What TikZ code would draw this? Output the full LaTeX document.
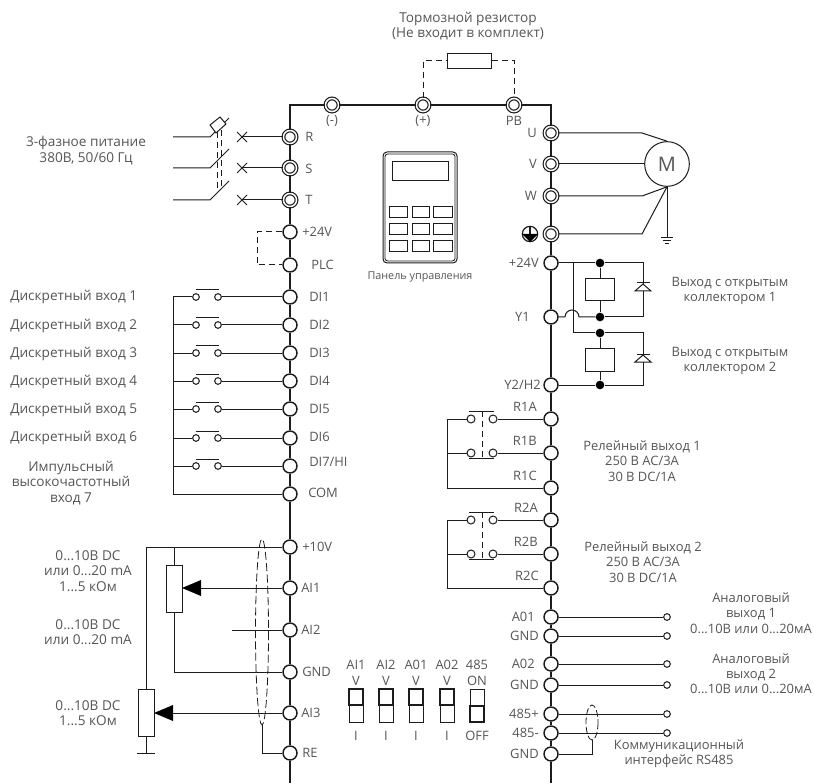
\documentclass[tikz,border=0pt]{standalone}
\usepackage{fontspec}
\setmainfont{Open Sans}
\usepackage{tikz}
\definecolor{txtgray}{HTML}{555555}
\definecolor{wiregray}{HTML}{1c1c1c}
\tikzset{
  wire/.style={draw=wiregray,line width=0.75pt},
  rail/.style={draw=wiregray,line width=1.15pt},
  jumper/.style={draw=wiregray,line width=0.75pt,dashed,dash pattern=on 4.5pt off 3pt},
  term/.style={circle,draw=wiregray,line width=1.1pt,fill=white,inner sep=0pt,minimum size=10.5pt},
  ringterm/.style={circle,draw=wiregray,line width=0.9pt,double=white,double distance=1.1pt,fill=white,inner sep=0pt,minimum size=9.8pt},
  contact/.style={circle,draw=wiregray,line width=0.75pt,fill=white,inner sep=0pt,minimum size=5pt},
  endpin/.style={circle,draw=wiregray,line width=0.75pt,fill=white,inner sep=0pt,minimum size=5pt},
  junction/.style={circle,fill=black,inner sep=0pt,minimum size=6.5pt},
  boxpart/.style={draw=wiregray,line width=0.75pt,fill=white},
  txt/.style={text=txtgray,font=\fontsize{9.7}{11.4}\selectfont,inner sep=0pt,align=center},
  txtb/.style={txt,font=\fontsize{10.2}{11.6}\selectfont},
  small/.style={text=txtgray,font=\fontsize{8.1}{9}\selectfont,inner sep=0pt,align=center},
}
\begin{document}
\begin{tikzpicture}[x=0.75pt,y=-0.75pt]
\useasboundingbox (0,0) rectangle (814,784);
% terminals, left rail
\foreach \nm/\yy in {R/137,S/168,T/200}
  \node[ringterm] (t\nm) at (290,\yy) {};
\foreach \nm/\yy in {PV/232,PLC/265,DIa/297,DIb/325,DIc/353,DId/381,DIe/409,DIf/438,DIg/466,COM/494,AV/547,AIa/588,AIb/630,AG/672,AIc/713,RE/753}
  \node[term] (t\nm) at (290,\yy) {};
% terminals, top and right rail
\foreach \nm/\xx in {M/332,P/423,PB/514}
  \node[ringterm] (t\nm) at (\xx,105) {};
\foreach \nm/\yy in {U/133,V/164,W/196,E/234}
  \node[ringterm] (t\nm) at (551,\yy) {};
\foreach \nm/\yy in {QV/263,Ya/317,Yb/385,RaA/419,RaB/453,RaC/488,RbA/520,RbB/554,RbC/588,AOa/617,GNa/636,AOb/664,GNb/685,RSp/714,RSm/733,GNc/754}
  \node[term] (t\nm) at (551,\yy) {};
\coordinate (railtop) at (290,105);
\coordinate (railright) at (551,105);
\coordinate (railendl) at (290,783);
\coordinate (railendr) at (551,783);
\draw[rail] (tR) -- (railtop) -- (tM) -- (tP) -- (tPB) -- (railright) -- (tU);
\draw[rail] (tR) -- (tS) -- (tT) -- (tPV) -- (tPLC) -- (tDIa) -- (tDIb) -- (tDIc) -- (tDId) -- (tDIe) -- (tDIf) -- (tDIg) -- (tCOM) -- (tAV) -- (tAIa) -- (tAIb) -- (tAG) -- (tAIc) -- (tRE) -- (railendl);
\draw[rail] (tU) -- (tV) -- (tW) -- (tE) -- (tQV) -- (tYa) -- (tYb) -- (tRaA) -- (tRaB) -- (tRaC) -- (tRbA) -- (tRbB) -- (tRbC) -- (tAOa) -- (tGNa) -- (tAOb) -- (tGNb) -- (tRSp) -- (tRSm) -- (tGNc) -- (railendr);
% rail labels
\foreach \nm/\lab/\xx/\yy in {lR/R/305/137,lS/S/305/169,lT/T/305/200,lPV/+24V/302/232,lPLC/PLC/311/265,lDIa/DI1/309/297,lDIb/DI2/309/325,lDIc/DI3/309/353,lDId/DI4/309/381,lDIe/DI5/309/409,lDIf/DI6/309/437,lDIg/DI7\slash HI/309/462,lCOM/COM/308/493,lAV/+10V/302/547,lAIa/AI1/301/588,lAIb/AI2/301/630,lAG/GND/302/672,lAIc/AI3/301/713,lRE/RE/302/753}
  \node[txt,anchor=west] (\nm) at (\xx,\yy) {\lab};
\foreach \nm/\lab/\xx/\yy in {lU/U/537/133,lV/V/537/164,lW/W/537/196,lQV/+24V/539/263,lYa/Y1/530/317,lYb/Y2\slash H2/541/385,lAOa/A01/535/617,lGNa/GND/539/636,lAOb/A02/535/664,lGNb/GND/539/685,lRSp/485+/539/714,lRSm/485-/539/733,lGNc/GND/539/754,lRaA/R1A/537/407,lRaB/R1B/537/441,lRaC/R1C/537/476,lRbA/R2A/538/508,lRbB/R2B/538/542,lRbC/R2C/539/576}
  \node[txt,anchor=east] (\nm) at (\xx,\yy) {\lab};
\foreach \nm/\lab/\xx in {lM/(-)/332,lP/(+)/423,lPB/PB/514}
  \node[txt] (\nm) at (\xx,121) {\lab};
% braking resistor
\node[boxpart,minimum width=33pt,minimum height=11pt,inner sep=0pt] (brake) at (469,61) {};
\node[txtb] (lbrake) at (468,26) {Тормозной резистор\\(Не входит в комплект)};
\coordinate (brl) at (423,61);
\coordinate (brr) at (514,61);
\draw[jumper] (tP) -- (brl) -- (brake);
\draw[jumper] (brake) -- (brr) -- (tPB);
% mains
\foreach \nm/\yy in {R/137,S/168,T/200}{
  \coordinate (m\nm a) at (173,\yy);
  \coordinate (m\nm b) at (210,\yy);
  \coordinate (m\nm c) at (229,\yy-19);
  \coordinate (m\nm x) at (242,\yy);
  \draw[wire] (m\nm a) -- (m\nm b) -- (m\nm c);
  \draw[wire] (t\nm) -- (m\nm x);
  \draw[wire] (237,\yy-5) -- (247,\yy+5) (237,\yy+5) -- (247,\yy-5);
}
\draw[boxpart,fill=white] (210,125) -- (220,117) -- (226,124) -- (216,133) -- cycle;
\draw[jumper,line width=0.6pt] (217,132) -- (217,192) (221,130) -- (221,188);
\node[txtb] (lmains) at (86,150.5) {3-фазное питание\\380В, 50/60 Гц};
% keypad
\draw[wiregray,line width=0.75pt,rounded corners=3pt] (383,152) rectangle (457,263);
\draw[wiregray,line width=0.6pt,rounded corners=2pt] (385,154) rectangle (455,261);
\draw[boxpart] (392,162) rectangle (448,181);
\foreach \yy in {207,224,241}
  \foreach \xx/\ww in {389/18,412/17,433/19}
    \draw[boxpart] (\xx,\yy) rectangle (\xx+\ww,\yy+11);
\node[small] (lkeypad) at (420,277) {Панель управления};
% jumper +24V / PLC
\coordinate (jpa) at (257,232);
\coordinate (jpb) at (257,265);
\draw[jumper] (tPV) -- (jpa) -- (jpb) -- (tPLC);
% digital inputs
\coordinate (dibus) at (173,297);
\coordinate (dibusend) at (173,494);
\draw[wire] (dibus) -- (dibusend) -- (tCOM);
\foreach \nm/\yy in {DIa/297,DIb/325,DIc/353,DId/381,DIe/409,DIf/438,DIg/466}{
  \node[contact] (ca\nm) at (196,\yy) {};
  \node[contact] (cb\nm) at (218,\yy) {};
  \coordinate (bus\nm) at (173,\yy);
  \draw[wire] (bus\nm) -- (ca\nm);
  \draw[wire] (cb\nm) -- (t\nm);
  \draw[wire] (196,\yy-7) -- (219,\yy-7);
}
\foreach \nm/\lab/\yy in {a/1/297,b/2/326,c/3/354,d/4/382,e/5/410,f/6/438}
  \node[txtb,anchor=west] (ldi\nm) at (10,\yy) {Дискретный вход \lab};
\node[txtb] (ldig) at (71,483) {Импульсный\\высокочастотный\\вход 7};
% analog inputs
\node[boxpart,minimum width=12pt,minimum height=35pt,inner sep=0pt] (pota) at (174,589) {};
\node[boxpart,minimum width=12pt,minimum height=35pt,inner sep=0pt] (potb) at (146,713) {};
\coordinate (vbusa) at (146,547);
\coordinate (vbusb) at (174,547);
\coordinate (agnd) at (174,672);
\coordinate (aibend) at (232,630);
\coordinate (potgnd) at (146,753);
\draw[wire] (tAV) -- (vbusa) -- (potb);
\draw[wire] (vbusb) -- (pota);
\draw[wire] (pota) -- (agnd) -- (tAG);
\draw[wire] (aibend) -- (tAIb);
\draw[wire] (potb) -- (potgnd);
\draw[wire] (137,753) -- (155,753);
\draw[wire] (tAIa) -- (201,588);
\draw[wire] (tAIc) -- (173,713);
\fill[black] (182,588) -- (201,580) -- (201,596) -- cycle;
\fill[black] (154,713) -- (173,705) -- (173,721) -- cycle;
\draw[wire,dashed,dash pattern=on 6pt off 2.5pt,line width=0.6pt] (262,632) ellipse (6.5 and 93);
\coordinate (shield) at (262,725);
\coordinate (shieldb) at (262,753);
\draw[wire] (shield) -- (shieldb) -- (tRE);
\node[txtb] (lana) at (88,571) {0...10В DC\\или 0...20 mA\\1...5 кОм};
\node[txtb] (lanb) at (88,632) {0...10В DC\\или 0...20 mA};
\node[txtb] (lanc) at (88,713) {0...10В DC\\1...5 кОм};
% motor and earth
\node[circle,draw=wiregray,line width=0.75pt,minimum size=33.5pt,inner sep=0pt,text=txtgray,font=\fontsize{15}{15}\selectfont] (motor) at (667,164) {M};
\coordinate (bendU) at (642,133);
\coordinate (bendW) at (642,196);
\coordinate (bendE) at (642,234);
\coordinate (earth) at (667,238);
\draw[wire] (tU) -- (bendU) -- (motor.north);
\draw[wire] (tV) -- (motor);
\draw[wire] (tW) -- (bendW) -- (motor.south);
\draw[wire] (tE) -- (bendE) -- (motor.south);
\draw[wire] (motor.south) -- (earth);
\draw[wire] (661,238) -- (673,238) (663,241) -- (671,241) (665,244) -- (669,244);
\node[circle,draw=wiregray,line width=0.9pt,minimum size=11.5pt,inner sep=0pt] (earthmark) at (530,234) {};
\draw[wiregray,line width=0.9pt] (530,226) -- (530,235);
\fill[black] (522,234) -- (538,234) -- (530,242) -- cycle;
% open collector outputs
\node[junction] (doa) at (600,263) {};
\node[junction] (dob) at (600,317) {};
\node[junction] (doc) at (600,333) {};
\node[junction] (dod) at (600,385) {};
\node[boxpart,minimum width=21.5pt,minimum height=16.5pt,inner sep=0pt] (relaya) at (600,290) {};
\node[boxpart,minimum width=21.5pt,minimum height=17pt,inner sep=0pt] (relayb) at (600,360) {};
\coordinate (cora) at (643,263);
\coordinate (corb) at (643,317);
\coordinate (corc) at (643,333);
\coordinate (cord) at (643,385);
\coordinate (tap) at (573,263);
\coordinate (tapb) at (573,333);
\draw[wire] (tQV) -- (doa) -- (cora) -- (corb) -- (dob);
\draw[wire] (tYa) -- (565,317) arc (180:360:7) -- (dob);
\draw[wire] (tap) -- (tapb) -- (doc) -- (corc) -- (cord) -- (dod) -- (tYb);
\draw[wire] (doa) -- (relaya) -- (dob);
\draw[wire] (doc) -- (relayb) -- (dod);
\foreach \yy in {283,354}{
  \draw[wire,fill=white] (643,\yy+1) -- (651,\yy+8) -- (635,\yy+8) -- cycle;
  \draw[wire] (637,\yy) -- (650,\yy);
}
\node[txt] (lcola) at (730,291) {Выход с открытым\\коллектором 1};
\node[txt] (lcolb) at (730,361) {Выход с открытым\\коллектором 2};
% relay outputs
\foreach \nm/\yy/\yb/\yc in {a/419/453/488,b/520/554/588}{
  \node[contact,minimum size=6pt] (rla\nm) at (471,\yy) {};
  \node[contact,minimum size=6pt] (rlb\nm) at (493,\yy) {};
  \node[contact,minimum size=6pt] (rlc\nm) at (471,\yb) {};
  \node[contact,minimum size=6pt] (rld\nm) at (493,\yb) {};
  \coordinate (rtop\nm) at (447,\yy);
  \coordinate (rmid\nm) at (447,\yb);
  \coordinate (rend\nm) at (447,\yc);
  \draw[wire] (rla\nm) -- (rtop\nm) -- (rend\nm) -- (tR\nm C);
  \draw[wire] (rmid\nm) -- (rlc\nm);
  \draw[wire] (rlb\nm) -- (tR\nm A);
  \draw[wire] (rld\nm) -- (tR\nm B);
  \draw[wire] (469,\yy-8) -- (494,\yy-8) (469,\yb+5) -- (494,\yb+5);
  \draw[jumper] (482,\yy-8) -- (482,\yb+5);
}
\node[txt] (lrla) at (642,461) {Релейный выход 1\\250 В AC/3A\\30 В DC/1A};
\node[txt] (lrlb) at (643,562) {Релейный выход 2\\250 В AC/3A\\30 В DC/1A};
% analog and RS485 outputs
\foreach \nm/\yy in {AOa/617,GNa/636,AOb/664,GNb/685,RSp/714,RSm/733}{
  \node[endpin] (e\nm) at (667,\yy) {};
  \draw[wire] (t\nm) -- (e\nm);
}
\draw[wire,dashed,dash pattern=on 5pt off 2pt,line width=0.6pt] (592,722.5) ellipse (6 and 17.5);
\coordinate (rsa) at (592,740);
\coordinate (rsb) at (592,754);
\draw[wire] (rsa) -- (rsb) -- (tGNc);
\node[txt] (laoa) at (751,613) {Аналоговый\\выход 1\\0...10В или 0...20мА};
\node[txt] (laob) at (751,674) {Аналоговый\\выход 2\\0...10В или 0...20мА};
\node[txt] (lrs) at (679,754) {Коммуникационный\\интерфейс RS485};
% dip switches
\foreach \nm/\xx/\la/\lb/\lc in {a/356/AI1/V/I,b/386/AI2/V/I,c/416/A01/V/I,d/447/A02/V/I}{
  \draw[boxpart] (\xx-7,689) rectangle (\xx+7,722);
  \draw[wiregray,line width=1.3pt] (\xx-7,689) rectangle (\xx+7,705);
  \node[txt] (dt\nm) at (\xx,665) {\la};
  \node[txt] (dv\nm) at (\xx,681) {\lb};
  \node[txt] (dl\nm) at (\xx,736) {\lc};
}
\draw[boxpart] (470,689) rectangle (484,722);
\draw[wiregray,line width=1.3pt] (470,706) rectangle (484,722);
\node[txt] (dte) at (477,665) {485};
\node[txt] (dve) at (477,681) {ON};
\node[txt] (dle) at (477,736) {OFF};
\end{tikzpicture}
\end{document}
